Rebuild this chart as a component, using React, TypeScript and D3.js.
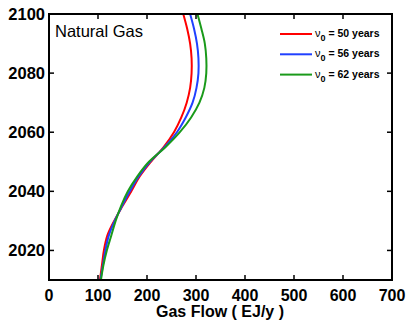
import * as d3 from 'd3';
import { useEffect, useRef } from 'react';

// years on the vertical axis, gas flow (EJ/y) on the horizontal one
const years = [2010, 2015, 2020, 2025, 2030, 2035, 2040, 2045, 2050, 2055, 2060, 2065, 2070, 2075, 2080, 2085, 2090, 2095, 2100];
const flow50 = [104, 108, 112, 119, 133, 150, 168, 185, 208, 234, 255, 270, 281, 288, 291, 291, 288, 282, 274];
const flow56 = [105, 110, 115, 122, 134, 149, 165, 183, 206, 236, 261, 279, 293, 301, 305, 305, 302, 296, 288];
const flow62 = [106, 111, 118, 127, 136, 147, 161, 180, 204, 238, 267, 290, 307, 317, 321, 321, 318, 311, 303];

const seriesNames = ['50', '56', '62'];
const seriesColors = ['#ff0000', '#2040ff', '#1a9a1a'];
const seriesValues = [flow50, flow56, flow62];

const xTicks = [0, 100, 200, 300, 400, 500, 600, 700];
const yTicks = [2020, 2040, 2060, 2080, 2100];

const FONT = 'Liberation Sans, Arial, Helvetica, sans-serif';

const App = () => {
	const svgRef = useRef<SVGSVGElement>(null);

	useEffect(() => {
		const width = 415;
		const height = 321;
		const left = 49;
		const right = 392;
		const top = 14;
		const bottom = 280;

		const x = d3.scaleLinear().domain([0, 700]).range([left, right]);
		const y = d3.scaleLinear().domain([2010, 2100]).range([bottom, top]);

		const svg = d3.select(svgRef.current);
		svg.selectAll('*').remove();
		svg.attr('width', width).attr('height', height).attr('viewBox', [0, 0, width, height]);

		// curves
		const line = d3
			.line<number>()
			.curve(d3.curveCatmullRom)
			.x((d) => x(d))
			.y((_, i) => y(years[i]));

		seriesValues.forEach((vals, k) => {
			svg
				.append('path')
				.attr('fill', 'none')
				.attr('stroke', seriesColors[k])
				.attr('stroke-width', 2)
				.attr('d', line(vals));
		});

		// ticks, inward on all four sides
		const tickLen = 5;
		const ticks = svg.append('g').attr('stroke', '#000').attr('stroke-width', 1.5);
		xTicks.forEach((t) => {
			ticks.append('line').attr('x1', x(t)).attr('x2', x(t)).attr('y1', bottom).attr('y2', bottom - tickLen);
			ticks.append('line').attr('x1', x(t)).attr('x2', x(t)).attr('y1', top).attr('y2', top + tickLen);
		});
		yTicks.forEach((t) => {
			ticks.append('line').attr('x1', left).attr('x2', left + tickLen).attr('y1', y(t)).attr('y2', y(t));
			ticks.append('line').attr('x1', right).attr('x2', right - tickLen).attr('y1', y(t)).attr('y2', y(t));
		});

		// frame
		svg
			.append('rect')
			.attr('x', left)
			.attr('y', top)
			.attr('width', right - left)
			.attr('height', bottom - top)
			.attr('fill', 'none')
			.attr('stroke', '#000')
			.attr('stroke-width', 2);

		// tick labels
		svg
			.append('g')
			.selectAll('text')
			.data(xTicks)
			.join('text')
			.attr('x', (d) => x(d))
			.attr('y', 301)
			.attr('text-anchor', 'middle')
			.attr('font-family', FONT)
			.attr('font-weight', 'bold')
			.attr('font-size', 16)
			.text((d) => d);

		svg
			.append('g')
			.selectAll('text')
			.data(yTicks)
			.join('text')
			.attr('x', 45)
			.attr('y', (d) => y(d) + 6)
			.attr('text-anchor', 'end')
			.attr('font-family', FONT)
			.attr('font-weight', 'bold')
			.attr('font-size', 16.5)
			.text((d) => d);

		// axis title
		svg
			.append('text')
			.attr('x', (left + right) / 2 - 0.5)
			.attr('y', 317)
			.attr('text-anchor', 'middle')
			.attr('font-family', FONT)
			.attr('font-weight', 'bold')
			.attr('font-size', 16)
			.text('Gas Flow ( EJ/y )');

		// panel label
		svg
			.append('text')
			.attr('x', 55)
			.attr('y', 36.7)
			.attr('font-family', FONT)
			.attr('font-size', 16.5)
			.text('Natural Gas');

		// legend
		const legend = svg.append('g');
		seriesNames.forEach((name, k) => {
			const ly = 34 + k * 20.3;
			legend
				.append('line')
				.attr('x1', 280)
				.attr('x2', 312)
				.attr('y1', ly)
				.attr('y2', ly)
				.attr('stroke', seriesColors[k])
				.attr('stroke-width', 2);
			const t = legend
				.append('text')
				.attr('x', 315)
				.attr('y', ly + 3)
				.attr('font-family', FONT)
				.attr('font-size', 10.5);
			t.append('tspan').attr('font-size', 11).text('ν');
			t.append('tspan').attr('dy', 4).attr('font-weight', 'bold').attr('font-size', 9).text('0');
			t.append('tspan').attr('dy', -4).attr('font-weight', 'bold').text(` = ${name} years`);
		});
	}, []);

	return <svg ref={svgRef} style={{ position: 'absolute', left: 0, top: 0 }} />;
};

export default App;
